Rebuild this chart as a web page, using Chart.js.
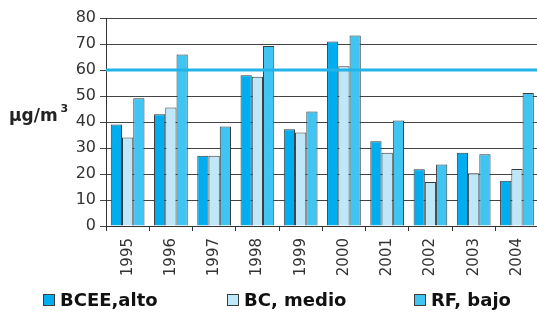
<!DOCTYPE html>
<html>
<head>
<meta charset="utf-8">
<script src="https://cdn.jsdelivr.net/npm/chart.js@4/dist/chart.umd.min.js"></script>
<style>
html,body{margin:0;padding:0;background:#fff;overflow:hidden;width:537px;height:312px}
#c{display:block}
</style>
</head>
<body>
<canvas id="c" width="542" height="312" style="width:542px;height:312px"></canvas>
<script>
// values (µg/m3)
const years=['1995','1996','1997','1998','1999','2000','2001','2002','2003','2004'];
const bceeAlto=[39,43,27,58,37.2,71,32.6,21.8,28.2,17.4];
const bcMedio=[34,45.6,27,57.4,36,61.4,28.2,16.9,20.3,21.9];
const rfBajo=[49.1,66,38.3,69.2,44,73.3,40.6,23.7,27.6,51.2];
const seriesNames=['BCEE,alto','BC, medio','RF, bajo'];
const limitValue=60;
const yMin=0, yMax=80, yStep=10;

const COL=['#00aeef','#bee7f9','#40c5f2'];
const EDGE='#3a3a3a';

// horizontal limit line at 60
const limitLine={id:'limitLine',afterDatasetsDraw(chart){
  const {ctx,chartArea:a,scales:{y}}=chart;
  const py=y.getPixelForValue(limitValue);
  ctx.save();ctx.strokeStyle='#22b3e8';ctx.lineWidth=3;
  ctx.beginPath();ctx.moveTo(a.left,py);ctx.lineTo(a.right,py);ctx.stroke();ctx.restore();
}};

// horizontal y title
const yTitle={id:'yTitle',afterDraw(chart){
  const ctx=chart.ctx;
  ctx.save();ctx.fillStyle='#222';ctx.textBaseline='alphabetic';ctx.textAlign='left';
  ctx.font='bold 17px "DejaVu Sans"';
  ctx.fillText('µg/m',9,121);
  const w=ctx.measureText('µg/m').width;
  ctx.font='bold 11px "DejaVu Sans"';
  ctx.fillText('3',9+w+3,112);
  ctx.restore();
}};

// bottom legend, items spread like the original
const legendX=[43,227,414];
const bottomLegend={id:'bottomLegend',afterDraw(chart){
  const ctx=chart.ctx;
  ctx.save();ctx.font='bold 18px "DejaVu Sans"';ctx.textBaseline='alphabetic';ctx.fillStyle='#111';
  chart.data.datasets.forEach((ds,i)=>{
    const x=legendX[i];
    ctx.fillStyle=ds.backgroundColor;ctx.fillRect(x,294,12,12);
    ctx.strokeStyle=EDGE;ctx.lineWidth=1;ctx.strokeRect(x+0.5,294.5,11,11);
    ctx.fillStyle='#111';ctx.fillText(ds.label,x+17,306);
  });
  ctx.restore();
}};

const mk=(i,data)=>({label:seriesNames[i],data,backgroundColor:COL[i],borderColor:EDGE,borderWidth:1,
  categoryPercentage:0.78,barPercentage:1.0});

new Chart(document.getElementById('c'),{
  type:'bar',
  data:{labels:years,datasets:[mk(0,bceeAlto),mk(1,bcMedio),mk(2,rfBajo)]},
  options:{
    responsive:false,animation:false,devicePixelRatio:1,
    layout:{padding:{left:0,top:18,right:1,bottom:0}},
    plugins:{legend:{display:false},tooltip:{enabled:false}},
    scales:{
      x:{
        afterFit(s){s.height=86;},
        grid:{offset:true,drawOnChartArea:false,tickLength:5,color:'#333'},
        border:{color:'#333',width:1},
        ticks:{autoSkip:false,minRotation:90,maxRotation:90,padding:7,color:'#333',
          font:{family:'"DejaVu Sans"',size:15}}
      },
      y:{
        min:yMin,max:yMax,
        afterFit(s){s.width=106;},
        grid:{color:'#444',tickLength:6,lineWidth:1},
        border:{color:'#333',width:1},
        ticks:{stepSize:yStep,padding:4,color:'#333',font:{family:'"DejaVu Sans"',size:16}}
      }
    }
  },
  plugins:[limitLine,yTitle,bottomLegend]
});
</script>
</body>
</html>
